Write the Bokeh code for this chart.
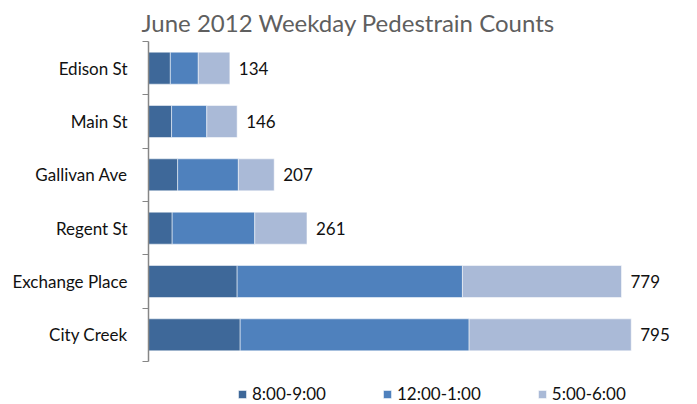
from bokeh.plotting import figure
from bokeh.models import ColumnDataSource, FixedTicker, Range1d
from bokeh.core.properties import value
from bokeh.embed import file_html
from bokeh.resources import INLINE

streets = ["Edison St", "Main St", "Gallivan Ave", "Regent St", "Exchange Place", "City Creek"]
morning = [36, 38, 48, 39, 146, 151]
noon = [46, 58, 100, 136, 371, 377]
evening = [52, 50, 59, 86, 262, 267]
totals = [134, 146, 207, 261, 779, 795]
series = ["8:00-9:00", "12:00-1:00", "5:00-6:00"]
colors = ["#3E6899", "#4F81BD", "#AABAD7"]

FONT = "Lato"
n = len(streets)
ypos = [n - 1 - i + 0.5 for i in range(n)]

source = ColumnDataSource(dict(
    y=ypos, street=streets,
    m=morning, nn=noon, e=evening,
    total=totals, total_str=[str(t) for t in totals],
))

scale = 0.6072
frame_w = 697 - 148 - 7
band = 320 / n
frame_h = 404 - 41
p = figure(width=697, height=404, output_backend="svg", toolbar_location=None,
           x_range=Range1d(0, frame_w / scale),
           y_range=Range1d(n - frame_h / band, n),
           min_border_left=148, min_border_right=7, min_border_top=41, min_border_bottom=0,
           title="June 2012 Weekday Pedestrain Counts")
p.outline_line_color = None
p.grid.visible = False
p.xaxis.visible = False
p.background_fill_color = "white"
p.border_fill_color = "white"

p.title.text_font = FONT
p.title.text_font_size = "24px"
p.title.text_font_style = "normal"
p.title.text_color = "#5F5F5F"
p.title.align = "left"
p.title.offset = -7

rs = p.hbar_stack(["m", "nn", "e"], y="y", height=0.6, color=colors, source=source,
                  line_color="white", line_alpha=0.5, line_width=1,
                  legend_label=series)

p.text(x="total", y="y", text="total_str", source=source, x_offset=9,
       text_baseline="middle", text_align="left", text_font=value(FONT),
       text_font_size="17px", text_color="#111111")

yax = p.yaxis[0]
yax.bounds = (0, n)
yax.ticker = FixedTicker(ticks=ypos, minor_ticks=list(range(n + 1)))
yax.major_label_overrides = {y: s for y, s in zip(ypos, streets)}
yax.major_tick_out = 0
yax.major_tick_in = 0
yax.minor_tick_out = 6
yax.minor_tick_in = 0
yax.minor_tick_line_color = "#868686"
yax.axis_line_color = "#868686"
yax.axis_line_width = 1.5
yax.major_label_standoff = 15
yax.major_label_text_font = FONT
yax.major_label_text_font_size = "17px"
yax.major_label_text_color = "#111111"

leg = p.legend[0]
leg.orientation = "horizontal"
leg.location = (89, 0)
leg.padding = 0
leg.margin = 0
leg.spacing = 56
leg.glyph_width = 10
leg.glyph_height = 10
leg.label_height = 17
leg.label_standoff = 5
leg.label_text_font = FONT
leg.label_text_font_size = "17px"
leg.label_text_color = "#111111"
leg.border_line_color = None
leg.background_fill_alpha = 0

open("out.html", "w").write(file_html(p, INLINE))
